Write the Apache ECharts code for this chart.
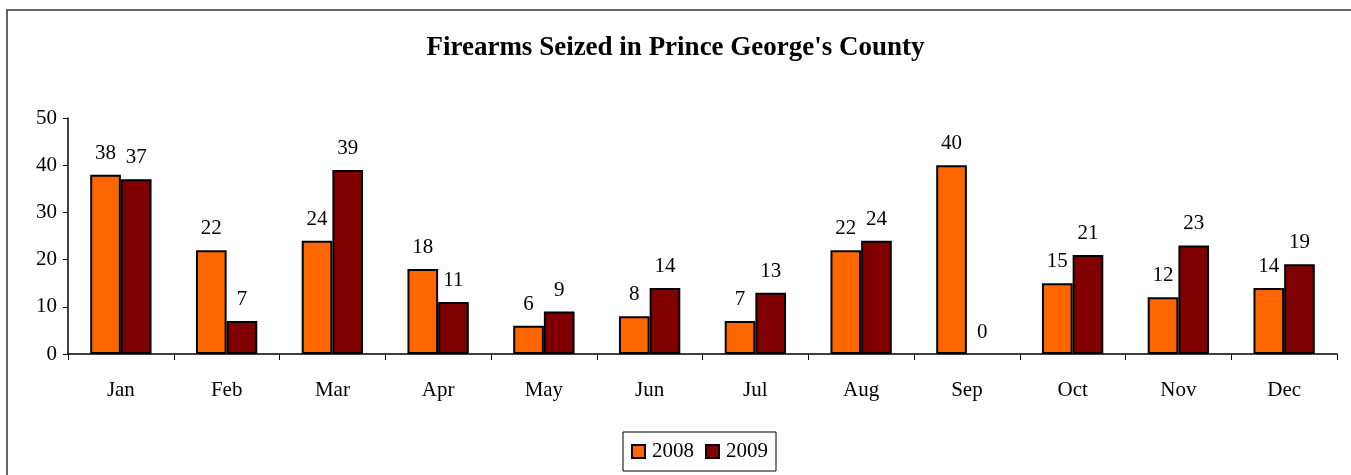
<!DOCTYPE html>
<html lang="en">
<head>
    <meta charset="utf-8">
    <title>Firearms Seized in Prince George's County</title>
    <script src="https://cdn.jsdelivr.net/npm/echarts@6/dist/echarts.min.js"></script>
    <style>
        html, body { margin: 0; padding: 0; background: #fff; }
        #main { width: 1351px; height: 475px; }
    </style>
</head>
<body>
<div id="main"></div>
<script type="text/javascript">
var months = ['Jan', 'Feb', 'Mar', 'Apr', 'May', 'Jun', 'Jul', 'Aug', 'Sep', 'Oct', 'Nov', 'Dec'];
var seized2008 = [38, 22, 24, 18, 6, 8, 7, 22, 40, 15, 12, 14];
var seized2009 = [37, 7, 39, 11, 9, 14, 13, 24, 0, 21, 23, 19];

var myChart = echarts.init(document.getElementById('main'));
var font = '"Liberation Serif", "Times New Roman", serif';

// 柱子公共样式，值为0时不画边框
function barSeries(name, data, color) {
    return {
        name: name,
        type: 'bar',
        data: data.map(function (v) {
            return v === 0 ? { value: v, itemStyle: { borderWidth: 0 } } : v;
        }),
        barWidth: '29%',
        barGap: '0%',
        itemStyle: { color: color, borderColor: '#000', borderWidth: 2 },
        label: {
            show: true,
            position: 'top',
            distance: 11,
            fontFamily: font,
            fontSize: 21,
            color: '#000'
        }
    };
}

var option = {
    animation: false,
    textStyle: { fontFamily: font },
    title: {
        text: "Firearms Seized in Prince George's County",
        left: 'center',
        top: 30,
        textStyle: { fontFamily: font, fontSize: 27, fontWeight: 'bold', color: '#000' }
    },
    graphic: [{
        type: 'rect',
        shape: { x: 7, y: 10, width: 1400, height: 500 },
        style: { fill: 'none', stroke: '#333', lineWidth: 1.5 },
        silent: true
    }],
    legend: {
        data: ['2008', '2009'],
        bottom: 4,
        left: 623,
        icon: 'rect',
        itemWidth: 13,
        itemHeight: 13,
        itemGap: 11,
        padding: [9, 8, 9, 8],
        borderColor: '#000',
        borderWidth: 1,
        textStyle: { fontFamily: font, fontSize: 21, color: '#000', padding: [0, 0, 0, 2] }
    },
    grid: { left: 68, right: 14, top: 118, bottom: 121 },
    xAxis: {
        type: 'category',
        data: months,
        axisLine: { lineStyle: { color: '#000', width: 1.5 } },
        axisTick: { show: true, length: 6, lineStyle: { color: '#000' } },
        axisLabel: { margin: 26, fontFamily: font, fontSize: 21, color: '#000' }
    },
    yAxis: {
        type: 'value',
        min: 0,
        max: 50,
        interval: 10,
        splitLine: { show: false },
        axisLine: { show: true, lineStyle: { color: '#000', width: 1.5 } },
        axisTick: { show: true, length: 5, lineStyle: { color: '#000' } },
        axisLabel: { margin: 11, fontFamily: font, fontSize: 21, color: '#000' }
    },
    series: [
        barSeries('2008', seized2008, '#FF6600'),
        barSeries('2009', seized2009, '#800000')
    ]
};

myChart.setOption(option);
</script>
</body>
</html>
